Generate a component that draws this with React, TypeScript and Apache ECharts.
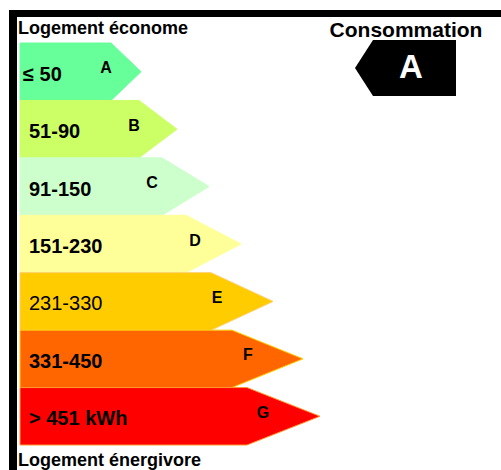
import React, { useEffect, useRef } from "react";
import * as echarts from "echarts";

// Energy classes (top = most economical)
const classes = ["A", "B", "C", "D", "E", "F", "G"];
const rangeLabels = ["≤ 50", "51-90", "91-150", "151-230", "231-330", "331-450", "> 451 kWh"];
const labelBold = [true, true, true, true, false, true, true];
// Arrow body length and tip length (value axis units)
const bodyLength = [91, 119, 142, 166, 191, 212, 227];
const tipLength = [121, 157, 189, 221, 253, 283, 300];
// Position of the class letter along the value axis
const letterAt = [86, 114, 132, 175, 197, 228, 243];
const colors = ["#66ff99", "#ccff66", "#ccffcc", "#ffff99", "#ffcc00", "#ff6600", "#ff0000"];
const strokes = ["#66ff99", "#ccff66", "#ccffcc", "#ffff99", "#ffcc66", "#ffcc00", "#ff9933"];
const topTitle = "Logement économe";
const bottomTitle = "Logement énergivore";
const consumptionTitle = "Consommation";
const currentClass = "A";

const FONT = "Arial, 'Liberation Sans', Helvetica, sans-serif";

export default function App() {
  const ref = useRef<HTMLDivElement>(null);
  useEffect(() => {
    if (!ref.current) return;
    const chart = echarts.init(ref.current, null, { renderer: "svg" });
    const data = classes.map((c, i) => [i, bodyLength[i], tipLength[i], letterAt[i]]);
    const option: any = {
      animation: false,
      backgroundColor: "#ffffff",
      grid: { left: 20, top: 43, width: 300, height: 402 },
      xAxis: { type: "value", min: 0, max: 300, show: false },
      yAxis: { type: "category", data: classes, inverse: true, show: false },
      series: [
        {
          type: "custom",
          encode: { y: 0, x: 2 },
          data,
          renderItem: (params: any, api: any) => {
            const idx = api.value(0);
            const [x0, yc] = api.coord([0, idx]);
            const bodyEnd = api.coord([api.value(1), idx])[0];
            const tip = api.coord([api.value(2), idx])[0];
            const lx = api.coord([api.value(3), idx])[0];
            const h = api.size([0, 1])[1];
            const top = yc - h / 2;
            const bottom = yc + h / 2;
            return {
              type: "group",
              children: [
                {
                  type: "polygon",
                  shape: {
                    points: [
                      [x0, top],
                      [bodyEnd, top],
                      [tip, yc],
                      [bodyEnd, bottom],
                      [x0, bottom],
                    ],
                  },
                  style: { fill: colors[idx], stroke: strokes[idx], lineWidth: 1 },
                },
                {
                  type: "text",
                  x: x0 + (idx === 0 ? 3 : 9),
                  y: yc + 2,
                  style: {
                    text: rangeLabels[idx],
                    fill: "#000",
                    font: `${labelBold[idx] ? "bold " : ""}20px ${FONT}`,
                    textAlign: "left",
                    textVerticalAlign: "middle",
                  },
                },
                {
                  type: "text",
                  x: lx,
                  y: yc - 4,
                  style: {
                    text: classes[idx],
                    fill: "#000",
                    font: `bold 16px ${FONT}`,
                    textAlign: "center",
                    textVerticalAlign: "middle",
                  },
                },
              ],
            };
          },
        },
      ],
      graphic: [
        { type: "rect", shape: { x: 9, y: 10, width: 492, height: 7 }, style: { fill: "#000" } },
        { type: "rect", shape: { x: 9, y: 10, width: 8, height: 460 }, style: { fill: "#000" } },
        {
          type: "text",
          x: 18,
          y: 28,
          style: { text: topTitle, font: `bold 18px ${FONT}`, fill: "#000", textAlign: "left", textVerticalAlign: "middle" },
        },
        {
          type: "text",
          x: 18,
          y: 460,
          style: { text: bottomTitle, font: `bold 18px ${FONT}`, fill: "#000", textAlign: "left", textVerticalAlign: "middle" },
        },
        {
          type: "text",
          x: 406,
          y: 29,
          style: { text: consumptionTitle, font: `bold 21px ${FONT}`, fill: "#000", textAlign: "center", textVerticalAlign: "middle" },
        },
        {
          type: "polygon",
          shape: { points: [[355, 68], [373, 40], [456, 40], [456, 96], [373, 96]] },
          style: { fill: "#000" },
        },
        {
          type: "text",
          x: 411,
          y: 66,
          style: { text: currentClass, font: `bold 33px ${FONT}`, fill: "#fff", textAlign: "center", textVerticalAlign: "middle" },
        },
      ],
    };
    chart.setOption(option);
    return () => chart.dispose();
  }, []);
  return <div ref={ref} style={{ width: 501, height: 470, position: "absolute", left: 0, top: 0 }} />;
}
